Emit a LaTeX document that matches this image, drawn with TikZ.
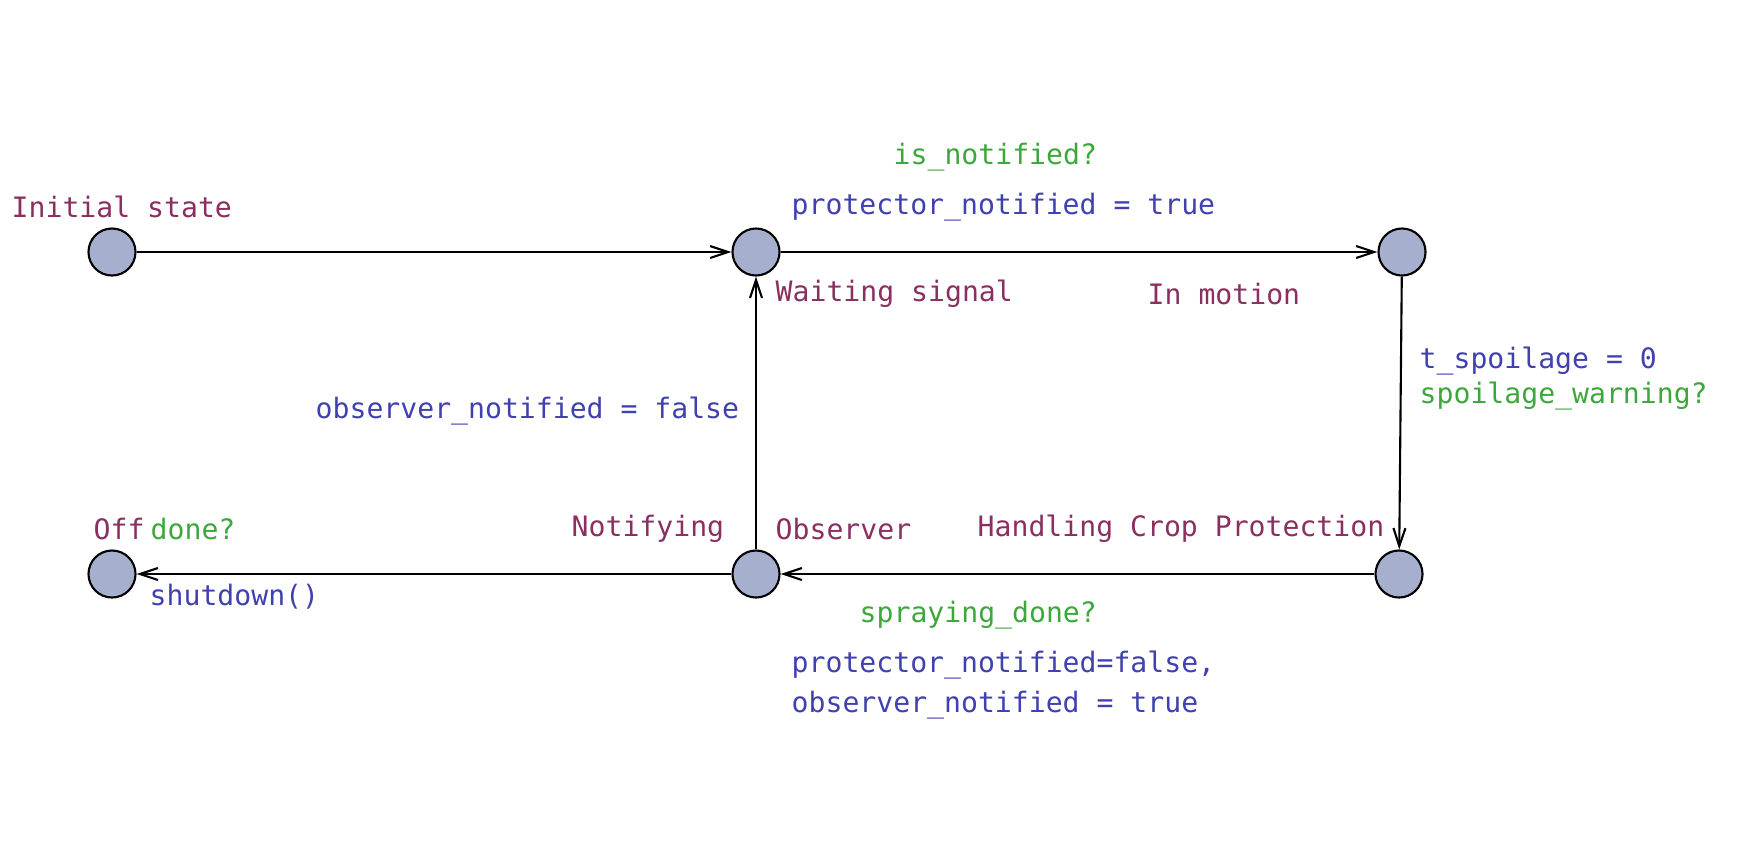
\documentclass[tikz,border=0pt]{standalone}
\usepackage{fontspec}
\setmonofont{DejaVu Sans Mono}
\usepackage{xcolor}
\usepackage{tikz}
\usetikzlibrary{arrows.meta,positioning,calc}

\definecolor{locname}{HTML}{8A2F5F}
\definecolor{upd}{HTML}{4040B0}
\definecolor{sync}{HTML}{3CA83C}
\definecolor{locfill}{HTML}{A6AFCD}

\begin{document}
\begin{tikzpicture}[
    x=0.01cm, y=-0.01cm,
    >={Straight Barb[length=1.8mm,width=1.2mm]},
    every node/.style={font=\ttfamily\fontsize{8}{10}\selectfont},
    loc/.style={circle,draw,fill=locfill,line width=0.6pt,minimum size=0.47cm,inner sep=0pt},
    edge/.style={->,line width=0.6pt},
    lname/.style={text=locname,anchor=west,inner sep=0pt,yshift=-0.03cm},
    assign/.style={text=upd,anchor=west,inner sep=0pt,yshift=-0.03cm},
    chan/.style={text=sync,anchor=west,inner sep=0pt,yshift=-0.03cm}
]
\useasboundingbox (0,0) rectangle (1740,854);

% locations
\node[loc] (init) at (112,252) {};
\node[loc] (wait) at (756,252) {};
\node[loc] (move) at (1402,252) {};
\node[loc] (spray) at (1399,574) {};
\node[loc] (obs) at (756,574) {};
\node[loc] (off) at (112,574) {};

\node[lname] at (11,204) {Initial state};
\node[lname] at (775,291) {Waiting signal};
\node[lname] at (1147,291) {In motion};
\node[lname] at (977,526) {Handling Crop Protection};
\node[lname] at (775,526) {Observer};
\node[lname] at (571,526) {Notifying};
\node[lname] at (93,526) {Off};

% transitions
\draw[edge] (init) -- (wait);
\draw[edge] (wait) -- (move);
\draw[edge] (move) -- (spray);
\draw[edge] (spray) -- (obs);
\draw[edge] (obs) -- (wait);
\draw[edge] (obs) -- (off);

\node[chan] at (893,154) {is\_notified?};
\node[assign] at (791,204) {protector\_notified = true};
\node[assign] at (1419,358) {t\_spoilage = 0};
\node[chan] at (1419,393) {spoilage\_warning?};
\node[chan] at (859,612) {spraying\_done?};
\node[assign] at (791,662) {protector\_notified=false,};
\node[assign] at (791,702) {observer\_notified = true};
\node[assign] at (315,408) {observer\_notified = false};
\node[chan] at (150,526) {done?};
\node[assign] at (149,594) {shutdown()};
\end{tikzpicture}
\end{document}
